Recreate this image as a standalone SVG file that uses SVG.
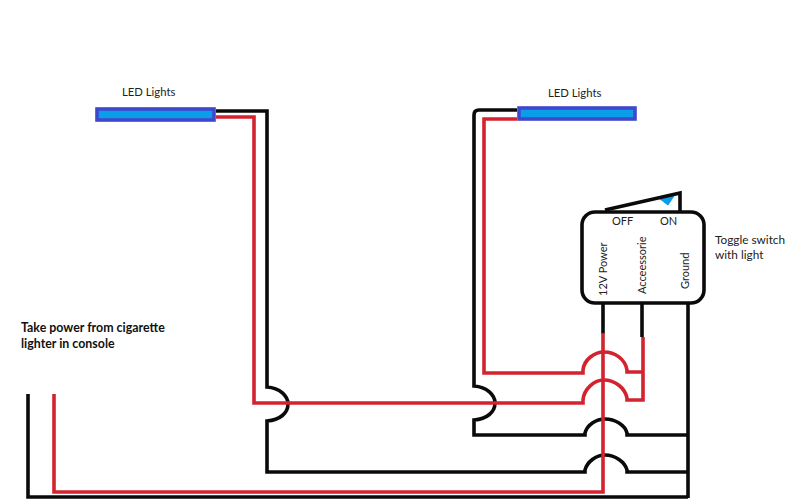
<svg xmlns="http://www.w3.org/2000/svg" width="800" height="500" viewBox="0 0 800 500">
<style>
.w{fill:none;stroke-width:3.6;stroke-linejoin:miter}
.k{stroke:#0a0a0a}
.r{stroke:#d3232f}
.led{fill:#0b9ee8;stroke:#3f48cc;stroke-width:3.6}
text{font-family:"Lato","Open Sans","Liberation Sans",sans-serif;font-size:11px;fill:#222}
.m{font-size:11.8px}
.l{font-size:11.3px}
.b{font-weight:700;fill:#111;font-size:12.4px}
</style>
<rect width="800" height="500" fill="#fff"/>
<g id="connectors">
<path class="w k" d="M216 111H267V387C280 388 288 396 288 404C288 413 280 420 267 421V472H585V470C587 462 596 455 605 455C615 455 625 462 627 470V472H688"/>
<path class="w k" d="M517 110H479Q474 110 474 115V386C487 387 495 395 495 403C495 412 487 419 474 420V435H585V433C587 425 596 419 605 419C615 419 625 425 627 433V435H688"/>
<path class="w k" d="M28 394V497H688"/>
<path class="w k" d="M688 303V498"/>
<path class="w k" d="M603 303V334"/>
<path class="w k" d="M642 303V337"/>
<path class="w r" d="M216 117H254V403H583V400C584 389 594 380 604 380C615 380 625 388 627 398V400H643V337"/>
<path class="w r" d="M517 119H484V373H583V370C584 360 594 352 604 352C615 352 625 359 627 370V372H642"/>
<path class="w r" d="M54 394V492H603V333"/>
</g>
<g id="led-left">
<rect class="led" x="97" y="109" width="117" height="11"/>
<text class="l" x="122" y="96">LED Lights</text>
</g>
<g id="led-right">
<rect class="led" x="519" y="108" width="116" height="11"/>
<text class="l" x="548" y="97">LED Lights</text>
</g>
<g id="switch">
<path d="M660 199L674 196L668 205Z" fill="#0b9ee8" stroke="#0b9ee8"/>
<path class="w k" d="M605 210L680 193V212"/>
<rect x="582" y="212" width="122" height="91" rx="13" fill="none" stroke="#0a0a0a" stroke-width="3.6"/>
<text x="612" y="225">OFF</text>
<text x="660" y="225">ON</text>
<text transform="translate(607,296) rotate(-90)">12V Power</text>
<text transform="translate(646,294) rotate(-90)">Acceessorie</text>
<text transform="translate(689,289) rotate(-90)">Ground</text>
<text class="m" x="715" y="244">Toggle switch</text>
<text class="m" x="715" y="259">with light</text>
</g>
<g id="power-note">
<text class="b" x="21" y="332">Take power from cigarette</text>
<text class="b" x="21" y="348">lighter in console</text>
</g>
</svg>
